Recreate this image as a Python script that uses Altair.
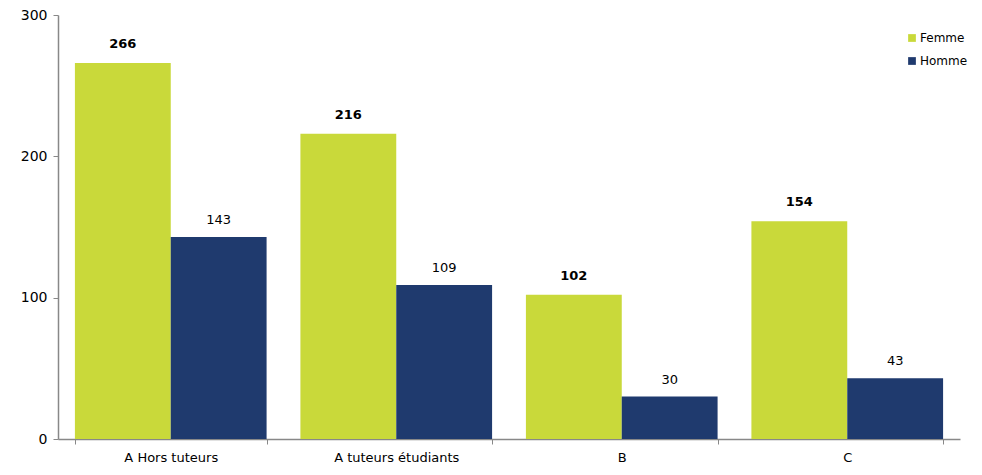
import altair as alt
import pandas as pd

categories = ["A Hors tuteurs", "A tuteurs étudiants", "B", "C"]
femme = [266, 216, 102, 154]
homme = [143, 109, 30, 43]
series = ["Femme", "Homme"]

rows = []
for c, f, h in zip(categories, femme, homme):
    rows.append({"cat": c, "sexe": "Femme", "val": f})
    rows.append({"cat": c, "sexe": "Homme", "val": h})
df = pd.DataFrame(rows)

FONT = "DejaVu Sans"

x = alt.X("cat:N", sort=categories, title=None,
          scale=alt.Scale(paddingInner=0.15, paddingOuter=0.075),
          axis=alt.Axis(labelAngle=0, labelFont=FONT, labelFontSize=13, labelColor="#000000",
                        domainColor="#888888", tickColor="#888888", tickBand="extent",
                        tickSize=5, labelPadding=7))
xo = alt.XOffset("sexe:N", sort=series, scale=alt.Scale(paddingInner=0, paddingOuter=0))

base = alt.Chart(df).encode(x=x, xOffset=xo)

bars = base.mark_bar().encode(
    y=alt.Y("val:Q", title=None,
            scale=alt.Scale(domain=[0, 300]),
            axis=alt.Axis(values=[0, 100, 200, 300], grid=False, labelFont=FONT,
                          labelFontSize=14, labelColor="#000000", domainColor="#888888",
                          tickColor="#888888", tickSize=5, labelPadding=6)),
    color=alt.Color("sexe:N", sort=series, title=None,
                    scale=alt.Scale(domain=series, range=["#C9D93A", "#1F3A6E"]),
                    legend=alt.Legend(orient="none", legendX=848, legendY=17,
                                      symbolType="square", symbolSize=60,
                                      symbolStrokeWidth=0,
                                      labelFont=FONT, labelFontSize=12,
                                      labelColor="#000000", rowPadding=11, labelOffset=2)),
)

lab_f = base.transform_filter(alt.datum.sexe == "Femme").mark_text(
    dy=-19, font=FONT, fontSize=13, fontWeight="bold", color="#000000"
).encode(y="val:Q", text="val:Q")

lab_h = base.transform_filter(alt.datum.sexe == "Homme").mark_text(
    dy=-17, font=FONT, fontSize=13, color="#000000"
).encode(y="val:Q", text="val:Q")

chart = alt.layer(bars, lab_f, lab_h).properties(
    width=966, height=458,
    autosize=alt.AutoSizeParams(type="fit", contains="padding"),
    padding={"left": 12, "top": 0, "right": 14, "bottom": 2},
).configure_view(stroke=None).configure_axis(domainWidth=1.5)

chart.save("out.html", embed_options={"renderer": "svg", "actions": False})
